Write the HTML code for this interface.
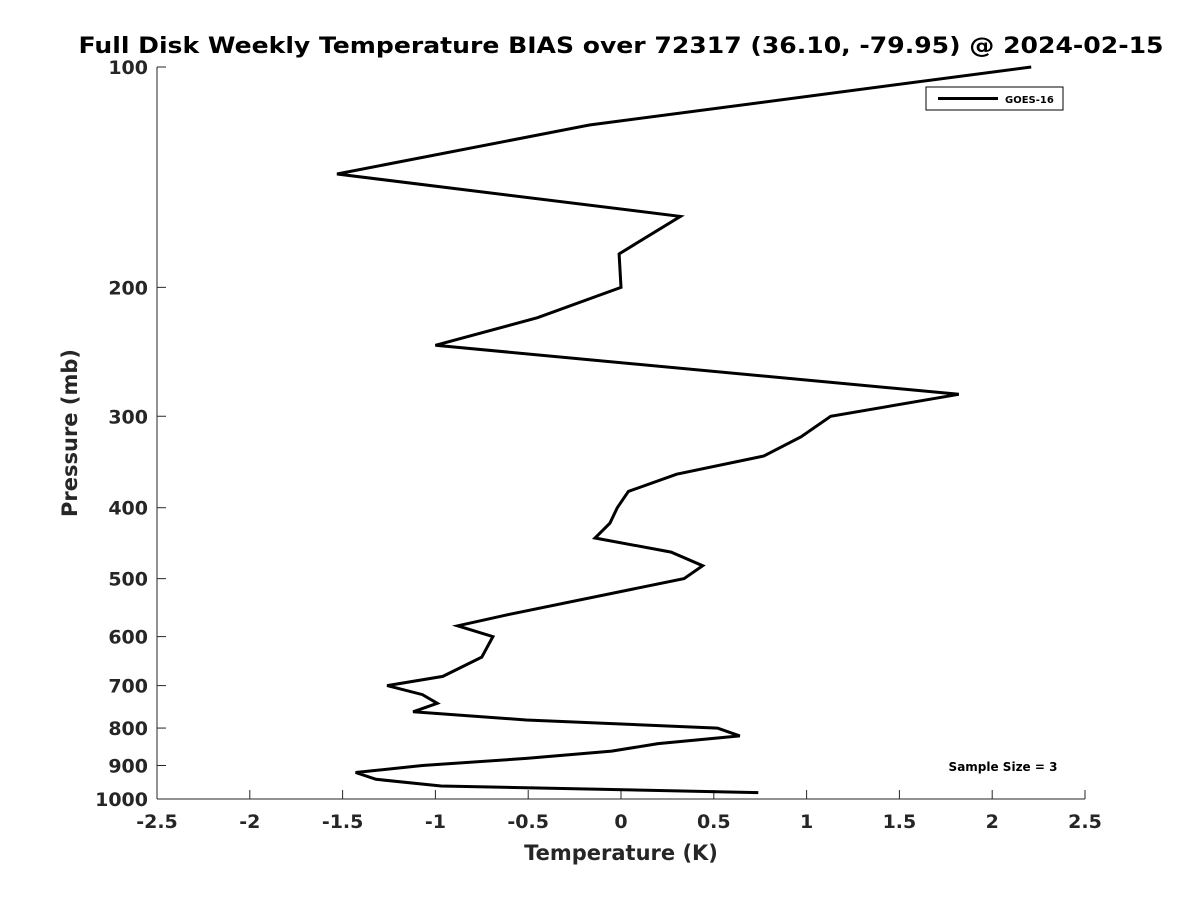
<!DOCTYPE html>
<html><head><meta charset="utf-8">
<style>
html,body{margin:0;padding:0;background:#fff;}
svg{display:block;font-family:"DejaVu Sans","Liberation Sans",sans-serif;}
</style></head>
<body>
<svg id="chart" width="1200" height="900" viewBox="0 0 1200 900">
  <rect width="1200" height="900" fill="#fff"/>
  <text x="621" y="53" text-anchor="middle" font-size="22" font-weight="bold" fill="#000" textLength="1085" lengthAdjust="spacingAndGlyphs">Full Disk Weekly Temperature BIAS over 72317 (36.10, -79.95) @ 2024-02-15</text>
  <g id="axes"></g>
  <g id="series"></g>
  <g>
    <rect x="926" y="87" width="137" height="23" fill="#fff" stroke="#000" stroke-width="1"/>
    <line x1="938" y1="98.5" x2="998" y2="98.5" stroke="#000" stroke-width="3"/>
    <text x="1005" y="103" font-size="10" font-weight="bold" fill="#000">GOES-16</text>
  </g>
  <text x="1003" y="771" text-anchor="middle" font-size="12" font-weight="bold" fill="#000">Sample Size = 3</text>
  <text x="621" y="860" text-anchor="middle" font-size="21" font-weight="bold" fill="#262626">Temperature (K)</text>
  <text transform="translate(77,433) rotate(-90)" text-anchor="middle" font-size="21" font-weight="bold" fill="#262626">Pressure (mb)</text>
</svg>
<script>
const xTicks = [-2.5,-2,-1.5,-1,-0.5,0,0.5,1,1.5,2,2.5];
const yTicks = [100,200,300,400,500,600,700,800,900,1000];
const temps = [2.21,-0.17,-1.53,0.32,-0.01,0,-0.45,-1.0,1.82,1.13,0.97,0.77,0.3,0.04,-0.02,-0.06,-0.14,0.27,0.44,0.34,-0.61,-0.88,-0.69,-0.75,-0.96,-1.26,-1.07,-0.99,-1.12,-0.51,0.52,0.64,0.2,-0.05,-0.51,-1.07,-1.43,-1.32,-0.97,0.74];
const pressures = [100,120,140,160,180,200,220,240,280,300,320,340,360,380,400,420,440,460,480,500,560,580,600,640,680,700,720,740,760,780,800,820,840,860,880,900,920,940,960,980];

const X0=157,X1=1085,Y0=67,Y1=799;
function xs(t){return X0+(t+2.5)/5*(X1-X0);}
function ys(p){return Y0+Math.log10(p/100)*(Y1-Y0);}
const NS="http://www.w3.org/2000/svg";
const axes=document.getElementById('axes');
function mk(tag,attrs,parent){const e=document.createElementNS(NS,tag);for(const k in attrs)e.setAttribute(k,attrs[k]);parent.appendChild(e);return e;}

const yl=mk('line',{x1:X0,y1:Y0,x2:X0,y2:Y1,stroke:'#262626','stroke-width':1},axes);


const xl=mk('line',{x1:X0,y1:Y1,x2:X1,y2:Y1,stroke:'#262626','stroke-width':1},axes);



xTicks.forEach(t=>{
  const x=xs(t);
  const tk=mk('line',{x1:x,y1:Y1,x2:x,y2:Y1-9,stroke:'#262626','stroke-width':1},axes);
  
  
  const lb=mk('text',{x:x,y:Y1+29,'text-anchor':'middle','font-size':19,'font-weight':'bold',fill:'#262626'},axes);
  lb.textContent=String(t);
  
  
});
yTicks.forEach(p=>{
  const y=ys(p);
  const tk=mk('line',{x1:X0,y1:y,x2:X0+9,y2:y,stroke:'#262626','stroke-width':1},axes);
  
  
  const lb=mk('text',{x:X0-9,y:y+7,'text-anchor':'end','font-size':19,'font-weight':'bold',fill:'#262626'},axes);
  lb.textContent=String(p);
  
  
});

const pts=temps.map((t,i)=>xs(t).toFixed(1)+','+ys(pressures[i]).toFixed(1)).join(' ');
const line=mk('polyline',{points:pts,fill:'none',stroke:'#000','stroke-width':3,'stroke-linejoin':'miter'},document.getElementById('series'));


</script>
</body></html>
